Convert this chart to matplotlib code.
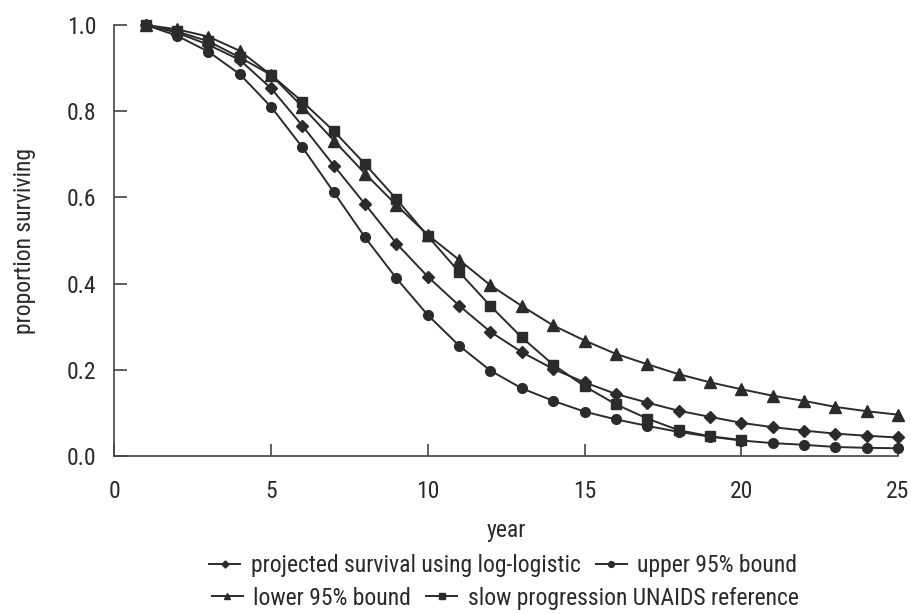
import matplotlib
matplotlib.use("Agg")
import matplotlib.pyplot as plt
from matplotlib.lines import Line2D

plt.rcParams['font.family'] = ['Roboto Condensed', 'Liberation Sans Narrow', 'Roboto', 'DejaVu Sans']

years = list(range(1, 26))
years_unaids = list(range(1, 21))

projected = [1.0, 0.982, 0.954, 0.919, 0.853, 0.766, 0.674, 0.584, 0.493, 0.416,
             0.349, 0.288, 0.241, 0.202, 0.171, 0.144, 0.124, 0.105, 0.091, 0.077,
             0.067, 0.059, 0.052, 0.047, 0.043]
upper = [1.0, 0.975, 0.938, 0.886, 0.810, 0.716, 0.612, 0.507, 0.412, 0.327,
         0.256, 0.198, 0.157, 0.128, 0.103, 0.085, 0.070, 0.056, 0.045, 0.036,
         0.030, 0.026, 0.021, 0.019, 0.018]
lower = [1.0, 0.990, 0.973, 0.940, 0.884, 0.810, 0.732, 0.655, 0.582, 0.513,
         0.455, 0.396, 0.348, 0.303, 0.268, 0.237, 0.213, 0.190, 0.171, 0.155,
         0.140, 0.128, 0.114, 0.104, 0.096]
unaids = [1.0, 0.985, 0.962, 0.925, 0.884, 0.822, 0.754, 0.677, 0.596, 0.510,
          0.427, 0.348, 0.275, 0.212, 0.162, 0.120, 0.087, 0.060, 0.046, 0.037]

labels = ["projected survival using log-logistic", "upper 95% bound",
          "lower 95% bound", "slow progression UNAIDS reference"]

x_ticks = [0, 5, 10, 15, 20, 25]
y_ticks = [0.0, 0.2, 0.4, 0.6, 0.8, 1.0]

color = '#2b2b2b'
tcolor = '#2a2a2a'
fs = 17
fig = plt.figure(figsize=(9.12, 6.14), dpi=100)
ax = fig.add_axes([0.1255, 0.2573, 0.859, 0.702])

styles = [
    (years, projected, 'D', 6),
    (years, upper, 'o', 7),
    (years, lower, '^', 8),
    (years_unaids, unaids, 's', 6.5),
]
handles = []
for (xs, ys, m, ms), lab in zip(styles, labels):
    ln, = ax.plot(xs, ys, color=color, lw=1.4, marker=m, ms=ms, clip_on=False,
                  label=lab)
    handles.append(ln)

ax.set_xlim(0, 25)
ax.set_ylim(0, 1.0)
ax.set_xticks(x_ticks)
ax.set_yticks(y_ticks)
ax.set_yticklabels([f"{v:.1f}" for v in y_ticks])
for s in ['top', 'right']:
    ax.spines[s].set_visible(False)
for s in ['left', 'bottom']:
    ax.spines[s].set_color('#444444')
    ax.spines[s].set_linewidth(1.2)
ax.tick_params(direction='in', length=9, width=1.2, color='#444444',
               labelsize=fs, labelcolor=tcolor)
ax.tick_params(axis='x', pad=17)
ax.tick_params(axis='y', pad=13)
ax.set_xlabel('year', fontsize=fs, color=tcolor, labelpad=12)
ax.set_ylabel('proportion surviving', fontsize=fs, color=tcolor, labelpad=22)

def mk(h):
    return Line2D([], [], color=color, lw=1.4, marker=h.get_marker(),
                  ms=h.get_markersize() * 0.6)

common = dict(ncol=2, loc='center', frameon=False, fontsize=fs,
              handlelength=1.3, columnspacing=0.65, handletextpad=0.45,
              labelcolor=tcolor, borderpad=0.2)
leg1 = fig.legend([mk(handles[0]), mk(handles[1])], labels[:2],
                  bbox_to_anchor=(0.552, 0.079), **common)
leg2 = fig.legend([mk(handles[2]), mk(handles[3])], labels[2:],
                  bbox_to_anchor=(0.554, 0.026), **common)

fig.savefig('out.png', dpi=100)
